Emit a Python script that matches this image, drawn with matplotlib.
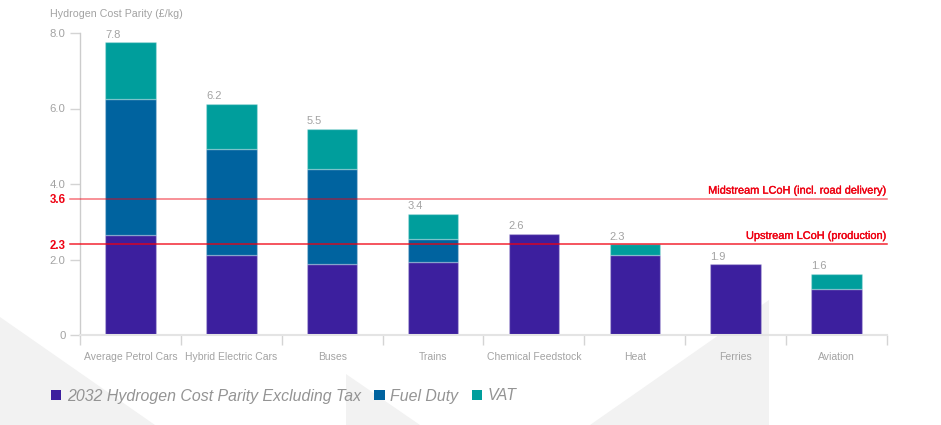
import matplotlib
matplotlib.use("Agg")
import matplotlib.pyplot as plt
import matplotlib.patheffects as pe
import numpy as np
from matplotlib.patches import Patch, Polygon
from matplotlib.transforms import blended_transform_factory

categorias = ["Average Petrol Cars", "Hybrid Electric Cars", "Buses", "Trains",
              "Chemical Feedstock", "Heat", "Ferries", "Aviation"]
base = [2.66, 2.13, 1.87, 1.94, 2.67, 2.13, 1.87, 1.21]
fuel_duty = [3.60, 2.81, 2.54, 0.59, 0, 0, 0, 0]
vat = [1.49, 1.19, 1.06, 0.67, 0, 0.27, 0, 0.40]
totais = ["7.8", "6.2", "5.5", "3.4", "2.6", "2.3", "1.9", "1.6"]

y_ticks = [0, 2, 4, 6, 8]
y_tick_labels = ["0", "2.0", "4.0", "6.0", "8.0"]

linhas_pos = [3.6, 2.4]
linhas_rotulo = ["3.6", "2.3"]
linhas_nome = ["Midstream LCoH (incl. road delivery)", "Upstream LCoH (production)"]
linhas_alpha = [0.55, 0.85]

serie_nomes = ["2032 Hydrogen Cost Parity Excluding Tax", "Fuel Duty", "VAT"]
cores = ["#3c1f9e", "#00639f", "#009e9c"]

plt.rcParams["font.family"] = ["Liberation Sans", "DejaVu Sans"]
W, H = 941, 425
CINZA = "#a3a3a3"
VERMELHO = "#ee0011"

fig = plt.figure(figsize=(W / 100, H / 100), dpi=100, facecolor="white")

# triangulos de fundo (em pixels da figura)
for tri in ([(0, 317), (155, 425), (0, 425)],
            [(346, 374), (420, 425), (346, 425)],
            [(590, 425), (769, 300), (769, 425)]):
    pts = [(x / W, 1 - y / H) for x, y in tri]
    fig.add_artist(Polygon(pts, closed=True, transform=fig.transFigure,
                           facecolor="#f2f2f2", edgecolor="none", zorder=0))

ax = fig.add_axes([80 / W, 1 - 335 / H, (887 - 80) / W, (335 - 33) / H])
ax.patch.set_alpha(0)
ax.set_xlim(0, 8)
ax.set_ylim(0, 8)

x = np.arange(len(categorias)) + 0.5
base = np.array(base)
fuel_duty = np.array(fuel_duty)
vat = np.array(vat)

largura = 0.5
borda = (1, 1, 1, 0.25)
ax.bar(x, base, largura, color=cores[0], edgecolor=borda, linewidth=1, zorder=2)
m = fuel_duty > 0
ax.bar(x[m], fuel_duty[m], largura, bottom=base[m], color=cores[1], edgecolor=borda, linewidth=1, zorder=2)
m = vat > 0
ax.bar(x[m], vat[m], largura, bottom=(base + fuel_duty)[m], color=cores[2], edgecolor=borda, linewidth=1, zorder=2)

# valor total acima de cada barra
topos = base + fuel_duty + vat
for xi, topo, txt in zip(x, topos, totais):
    ax.annotate(txt, (xi - largura / 2, topo), xytext=(0, 2), textcoords="offset points",
                ha="left", va="bottom", fontsize=8, color=CINZA)

# linhas vermelhas
tr = blended_transform_factory(ax.transAxes, ax.transData)
reforco = [pe.withStroke(linewidth=0.25, foreground=VERMELHO)]
for pos, rot, nome, a in zip(linhas_pos, linhas_rotulo, linhas_nome, linhas_alpha):
    ax.axhline(pos, xmin=-0.0118, xmax=1, color="#f00010", linewidth=1.1, alpha=a, clip_on=False, zorder=3)
    ax.text(-0.0175, pos - 0.03, rot, transform=tr, ha="right", va="center",
            fontsize=8.3, fontweight="bold", color=VERMELHO)
    ax.annotate(nome, (1, pos), xycoords=tr, xytext=(0, 2.5), textcoords="offset points",
                ha="right", va="bottom", fontsize=7.9, color=VERMELHO, path_effects=reforco)

# eixos
for lado in ("top", "right"):
    ax.spines[lado].set_visible(False)
ax.spines["left"].set_color("#cccccc")
ax.spines["left"].set_linewidth(1)
ax.spines["bottom"].set_color("#e4e4e4")
ax.spines["bottom"].set_linewidth(1.5)

ax.set_yticks(y_ticks)
ax.set_yticklabels(y_tick_labels)
ax.tick_params(axis="y", length=7, width=1, color="#d4d4d4", labelcolor=CINZA, labelsize=8.2, pad=3.5)

ax.set_xticks(np.arange(len(categorias) + 1))
ax.set_xticklabels([])
ax.tick_params(axis="x", which="major", length=7.5, width=1, color="#d4d4d4")
ax.set_xticks(x, minor=True)
ax.set_xticklabels(categorias, minor=True)
ax.tick_params(axis="x", which="minor", length=0, labelcolor=CINZA, labelsize=7.45, pad=12)

fig.text(50 / W, 1 - 14 / H, "Hydrogen Cost Parity (£/kg)", ha="left", va="center",
         fontsize=7.65, color=CINZA)

handles = [Patch(facecolor=c, edgecolor="none") for c in cores]
fig.legend(handles, serie_nomes, loc="center left", bbox_to_anchor=(51 / W, 1 - 396 / H),
           bbox_transform=fig.transFigure, ncol=3, frameon=False, borderpad=0, borderaxespad=0,
           handlelength=0.65, handleheight=0.65, handletextpad=0.34, columnspacing=0.85,
           labelcolor="#949494", prop={"size": 11.4, "style": "italic"})

fig.savefig("out.png", dpi=100, facecolor="white")
